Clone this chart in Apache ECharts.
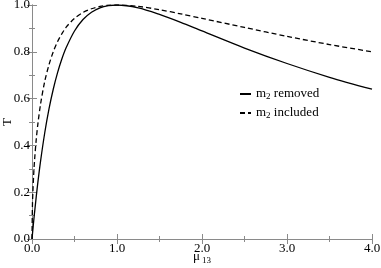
<!DOCTYPE html>
<html><head><meta charset="utf-8">
<script src="https://cdn.jsdelivr.net/npm/echarts@6/dist/echarts.min.js"></script>
<style>html,body{margin:0;padding:0;background:#fff}#c{width:381px;height:268px}</style>
</head><body><div id="c"></div>
<script>
var mu = [0, 0.005, 0.01, 0.02, 0.03, 0.05, 0.07, 0.1, 0.15, 0.2, 0.25, 0.3, 0.35, 0.4, 0.5, 0.6, 0.7, 0.8, 0.9, 1.0, 1.25, 1.5, 1.75, 2.0, 2.5, 3.0, 3.5, 4.0];
var removed = [0, 0.020, 0.039, 0.077, 0.113, 0.181, 0.245, 0.331, 0.454, 0.556, 0.640, 0.710, 0.768, 0.816, 0.889, 0.938, 0.969, 0.988, 0.997, 1.0, 0.988, 0.960, 0.926, 0.889, 0.816, 0.750, 0.691, 0.640];
var included = [0, 0.141, 0.198, 0.277, 0.336, 0.426, 0.494, 0.575, 0.674, 0.745, 0.800, 0.843, 0.876, 0.904, 0.943, 0.968, 0.984, 0.994, 0.999, 1.0, 0.994, 0.980, 0.962, 0.943, 0.904, 0.866, 0.831, 0.800];
var seriesNames = ['m2 removed', 'm2 included'];

var FONT = 'Liberation Serif';
var gray = '#8a8a8a';
function pairs(ys){ return mu.map(function(x,i){ return [x, ys[i]]; }); }
var chart = echarts.init(document.getElementById('c'));
var tickCommon = {inside: true, length: 5, lineStyle: {color: gray}};
var minorCommon = {show: true, splitNumber: 2, length: 3, lineStyle: {color: gray}};
chart.setOption({
  animation: false,
  backgroundColor: '#fff',
  grid: {left: 32, right: 9, top: 5, bottom: 29, containLabel: false, outerBoundsMode: 'none'},
  legend: {
    left: 234, top: 80, orient: 'vertical', itemWidth: 11, itemHeight: 10, itemGap: 3,
    data: seriesNames,
    itemStyle: {opacity: 0},
    formatter: function(n){ return n === seriesNames[0] ? '{m|m}{s|2}{m| removed}' : '{m|m}{s|2}{m| included}'; },
    textStyle: {fontFamily: FONT, color: '#000', rich: {
      m: {fontFamily: FONT, fontSize: 13, color: '#000', lineHeight: 14},
      s: {fontFamily: FONT, fontSize: 9, color: '#000', verticalAlign: 'bottom', lineHeight: 10, padding: [7,0,0,0]}
    }}
  },
  xAxis: [{
    type: 'value', min: 0, max: 4, interval: 1,
    name: '{m|μ}{s| 13}', nameLocation: 'middle', nameGap: 9, nameMoveOverlap: false,
    nameTextStyle: {rich: {
      m: {fontFamily: FONT, fontSize: 13, color: '#000'},
      s: {fontFamily: FONT, fontSize: 9, color: '#000', padding: [8,0,0,0]}
    }},
    axisLine: {show: true, lineStyle: {color: gray}},
    axisTick: tickCommon, minorTick: minorCommon,
    splitLine: {show: false},
    axisLabel: {fontFamily: FONT, fontSize: 13, color: '#000', margin: 3, formatter: function(v){ return v.toFixed(1); }}
  }, {
    type: 'value', min: 0, max: 4, interval: 1, position: 'top',
    axisLine: {show: true, lineStyle: {color: gray}},
    axisTick: tickCommon, minorTick: minorCommon,
    splitLine: {show: false}, axisLabel: {show: false}
  }],
  yAxis: [{
    type: 'value', min: 0, max: 1, interval: 0.2,
    name: 'T', nameLocation: 'middle', nameGap: 18, nameRotate: 90, nameMoveOverlap: false,
    nameTextStyle: {fontFamily: FONT, fontSize: 13, color: '#000'},
    axisLine: {show: true, lineStyle: {color: gray}},
    axisTick: tickCommon, minorTick: minorCommon,
    splitLine: {show: false},
    axisLabel: {fontFamily: FONT, fontSize: 13, color: '#000', margin: 2, padding: [2,0,0,0], formatter: function(v){ return v.toFixed(1); }}
  }, {
    type: 'value', min: 0, max: 1, interval: 0.2, position: 'right',
    axisLine: {show: true, lineStyle: {color: gray}},
    axisTick: tickCommon, minorTick: minorCommon,
    splitLine: {show: false}, axisLabel: {show: false}
  }],
  series: [{
    name: seriesNames[0], type: 'line', data: pairs(removed), symbol: 'none', smooth: 0.3,
    lineStyle: {color: '#000', width: 1.3, type: 'solid'}, itemStyle: {color: '#000'}
  }, {
    name: seriesNames[1], type: 'line', data: pairs(included), symbol: 'none', smooth: 0.3,
    lineStyle: {color: '#000', width: 1.3, type: [5, 3]}, itemStyle: {color: '#000'}
  }]
});
</script></body></html>
